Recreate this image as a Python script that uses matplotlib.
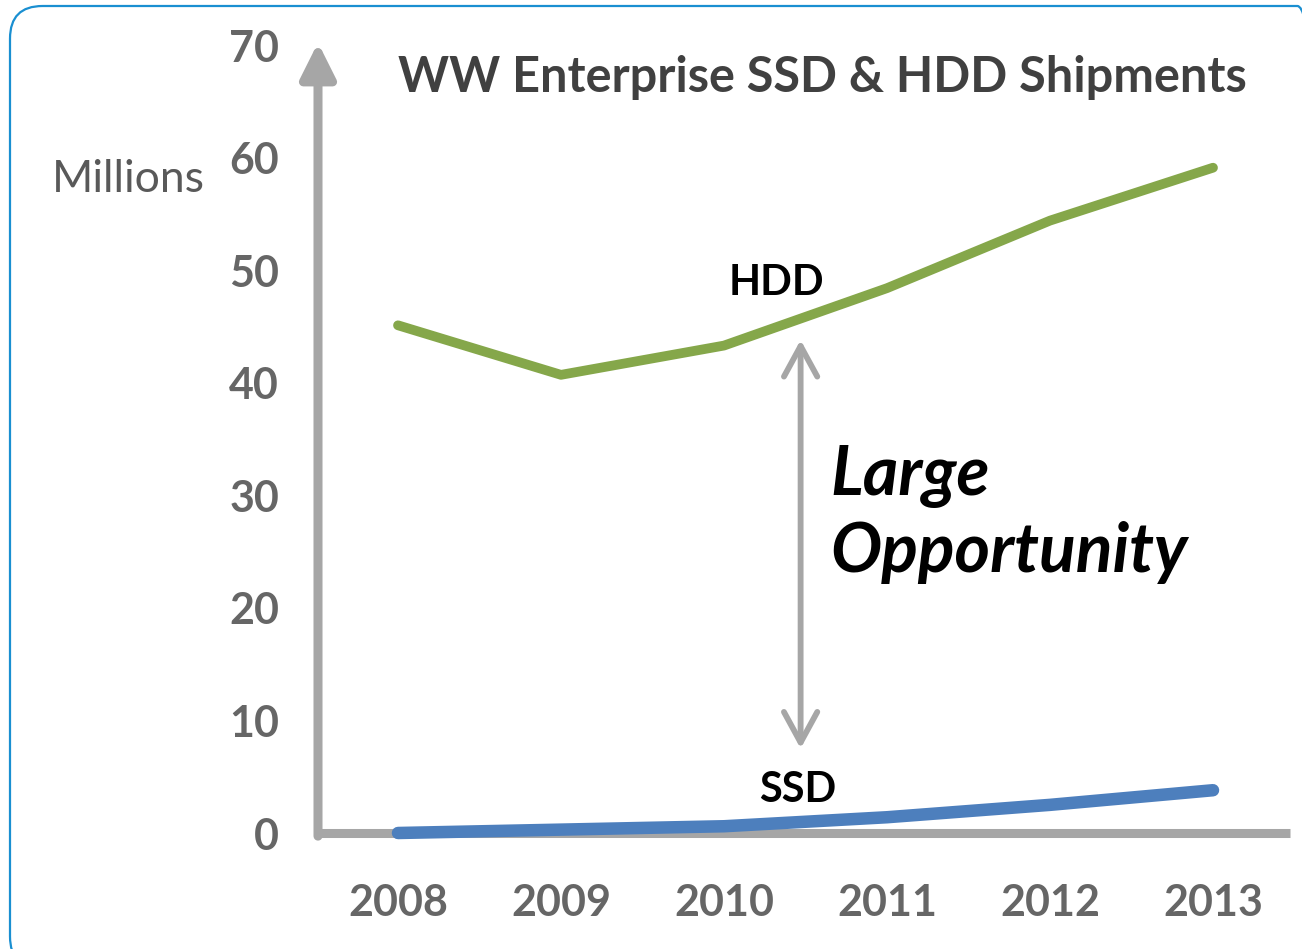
import matplotlib
matplotlib.use('Agg')
import matplotlib.pyplot as plt
from matplotlib.patches import FancyBboxPatch

# Данные (млн штук)
years = [2008, 2009, 2010, 2011, 2012, 2013]
hdd = [45.1, 40.7, 43.3, 48.4, 54.4, 59.1]
ssd = [0.0, 0.3, 0.6, 1.4, 2.5, 3.8]
yticks = [0, 10, 20, 30, 40, 50, 60, 70]
gap_x = 2010.47
gap_top = 43.8
gap_bottom = 7.5

plt.rcParams['font.family'] = ['Lato', 'DejaVu Sans']

fig = plt.figure(figsize=(13.02, 9.49), dpi=100)
W, H = 1302, 949

# рамка со скруглёнными углами
box = FancyBboxPatch((10 / W, -20 / H), 1320 / W, 963 / H,
                     boxstyle='round,pad=0,rounding_size=0.025',
                     transform=fig.transFigure, fill=False,
                     edgecolor='#1a8fd1', linewidth=1.6, mutation_aspect=W / H)
fig.patches.append(box)

ax = fig.add_axes([318 / W, 116 / H, (1290 - 318) / W, (904 - 116) / H])
ax.set_xlim(2008 - 80 / 163, 2013 + 77 / 163)
ax.set_ylim(0, 70)

for s in ['top', 'right', 'left']:
    ax.spines[s].set_visible(False)
ax.spines['bottom'].set_color('#a6a6a6')
ax.spines['bottom'].set_linewidth(6.5)
ax.spines['bottom'].set_capstyle('butt')

# ось Y со стрелкой
ax.annotate('', xy=(0, 1.003), xytext=(0, -0.004), xycoords='axes fraction',
            arrowprops=dict(arrowstyle='-|>,head_length=2.1,head_width=1.05',
                            color='#a6a6a6', lw=6.5, shrinkA=0, shrinkB=0),
            annotation_clip=False)

ax.plot(years, hdd, color='#85a74a', lw=7, solid_capstyle='round', clip_on=False, zorder=3)
ax.plot(years, ssd, color='#4d7fbd', lw=9, solid_capstyle='round', clip_on=False, zorder=3)

ax.set_yticks(yticks)
ax.set_xticks(years)
ax.tick_params(length=0)
ax.tick_params(axis='y', pad=28)
ax.tick_params(axis='x', pad=36)
for lab in ax.get_yticklabels() + ax.get_xticklabels():
    lab.set_fontsize(31)
    lab.set_fontweight('bold')
    lab.set_color('#666666')

fig.text(205 / W, 1 - 180 / H, 'Millions', fontsize=32, color='#595959',
         ha='right', va='center')
fig.text(822 / W, 1 - 77 / H, 'WW Enterprise SSD & HDD Shipments', fontsize=35,
         fontweight='bold', color='#404040', ha='center', va='center')

ax.text(2010.32, 48.9, 'HDD', fontsize=30, fontweight='bold', color='black',
        ha='center', va='center')
ax.text(2010.45, 3.8, 'SSD', fontsize=30, fontweight='bold', color='black',
        ha='center', va='center')

# стрелка разрыва
ax.annotate('', xy=(gap_x, gap_top), xytext=(gap_x, gap_bottom),
            arrowprops=dict(arrowstyle='<->,head_length=2.2,head_width=1.2',
                            color='#a6a6a6', lw=4.2, shrinkA=0, shrinkB=0))
ax.text(2010.65, 30.0, 'Large', fontsize=49, fontweight='bold',
        style='italic', color='black', ha='left', va='baseline')
ax.text(2010.65, 23.2, 'Opportunity', fontsize=49, fontweight='bold',
        style='italic', color='black', ha='left', va='baseline')

fig.savefig('out.png', dpi=100)
